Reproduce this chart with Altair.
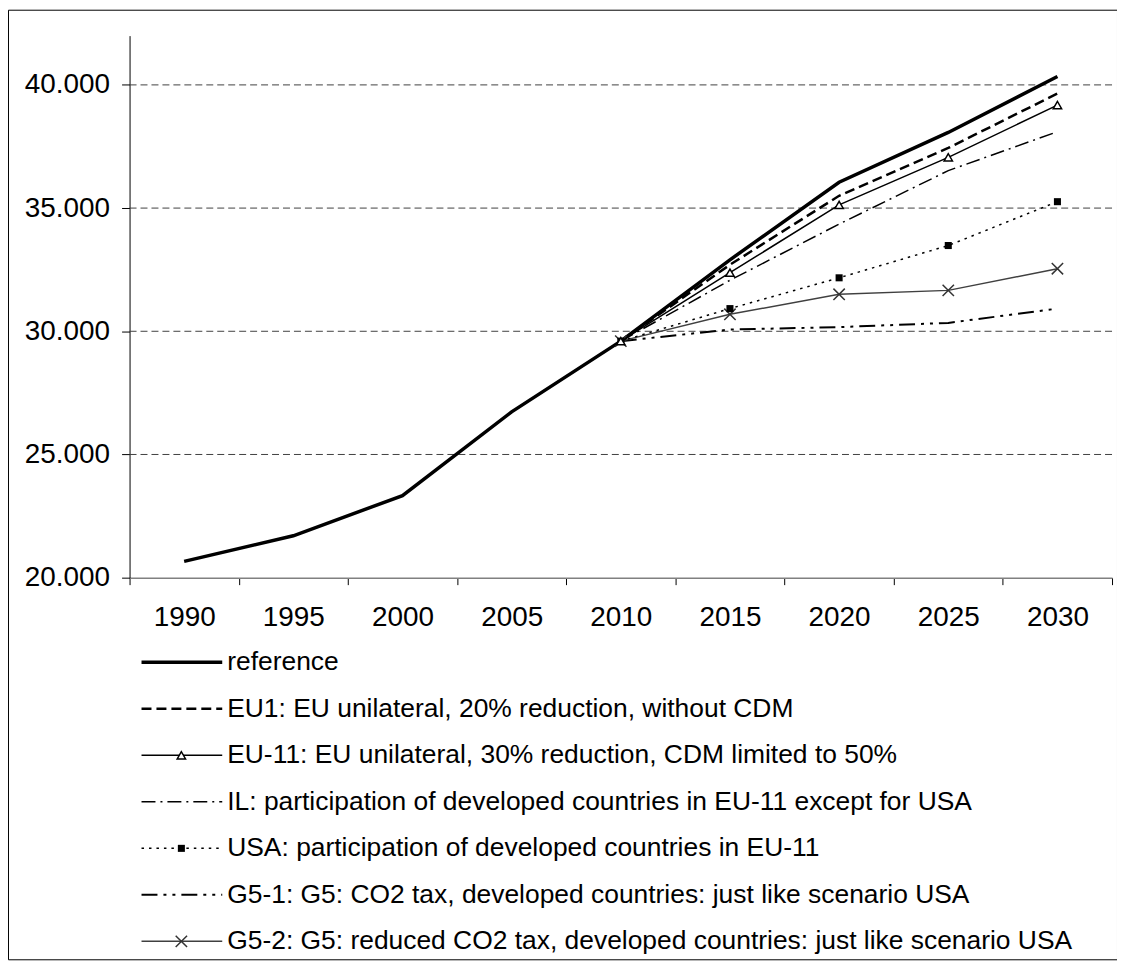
import altair as alt
import pandas as pd

years = [1990, 1995, 2000, 2005, 2010, 2015, 2020, 2025, 2030]

reference = [20660, 21700, 23330, 26730, 29600, 32900, 36050, 38070, 40340]
eu1 = [None, None, None, None, 29600, 32700, 35500, 37440, 39650]
eu11 = [None, None, None, None, 29600, 32380, 35130, 37060, 39180]
il = [None, None, None, None, 29600, 32070, 34350, 36520, 38100]
usa = [None, None, None, None, 29600, 30920, 32170, 33480, 35260]
g51 = [None, None, None, None, 29600, 30070, 30170, 30340, 30920]
g52 = [None, None, None, None, 29600, 30690, 31500, 31660, 32540]

series_names = ["reference", "EU1", "EU-11", "IL", "USA", "G5-1", "G5-2"]
series_values = [reference, eu1, eu11, il, usa, g51, g52]
legend_labels = [
    "reference",
    "EU1: EU unilateral, 20% reduction, without CDM",
    "EU-11: EU unilateral, 30% reduction, CDM limited to 50%",
    "IL: participation of developed countries in EU-11 except for USA",
    "USA: participation of developed countries in EU-11",
    "G5-1: G5: CO2 tax, developed countries: just like scenario USA",
    "G5-2: G5: reduced CO2 tax, developed countries: just like scenario USA",
]
y_ticks = [20000, 25000, 30000, 35000, 40000]
grid_values = [25000, 30000, 35000, 40000]

FONT = "Liberation Sans"

rows = []
for name, vals in zip(series_names, series_values):
    for yr, v in zip(years, vals):
        if v is not None:
            rows.append({"series": name, "year": yr, "value": v})
df = pd.DataFrame(rows)
grid_df = pd.DataFrame({"v": grid_values})
leg_df = pd.DataFrame({"series": series_names, "label": legend_labels})

X_PATH = "M-1,-1L1,1M-1,1L1,-1"
styles = {
    "reference": dict(color="black", width=3.5, dash=None, marker=None),
    "EU1": dict(color="black", width=2.5, dash=[10, 5], marker=None),
    "EU-11": dict(color="black", width=1.5, dash=None,
                  marker=dict(shape="triangle-up", size=70, filled=False, fill="white", stroke="black", strokeWidth=1.5)),
    "IL": dict(color="black", width=1.5, dash=[14, 5, 2, 5], marker=None),
    "USA": dict(color="black", width=1.5, dash=[2.5, 5],
                marker=dict(shape="square", size=50, filled=True, fill="black", stroke="black", strokeWidth=0)),
    "G5-1": dict(color="black", width=2, dash=[16, 6, 3, 6, 3, 6], marker=None),
    "G5-2": dict(color="#404040", width=1.5, dash=None,
                 marker=dict(shape=X_PATH, size=130, filled=False, stroke="#333333", strokeWidth=1.5)),
}

x_scale = alt.Scale(type="band", range=[122, 1108], paddingInner=0, paddingOuter=0)
y_scale = alt.Scale(domain=[20000, 42000], range=[570, 26], nice=False, zero=False)

x_axis = alt.Axis(
    title=None, tickBand="extent", domainColor="#808080", domainWidth=1.5,
    tickColor="black", tickSize=7, labelFontSize=28, labelFont=FONT,
    labelColor="black", labelPadding=19, labelAngle=0, offset=-383, grid=False,
)
y_axis = alt.Axis(
    title=None, values=y_ticks, labelExpr="replace(format(datum.value, ','), ',', '.')",
    domainColor="black", domainWidth=1, tickColor="black", tickSize=8,
    labelFontSize=28, labelFont=FONT, labelColor="black", labelPadding=12,
    offset=-122, grid=False,
)

X = alt.X("year:O", scale=x_scale, axis=x_axis)
Y = alt.Y("value:Q", scale=y_scale, axis=y_axis)

grid = alt.Chart(grid_df).mark_rule(stroke="#404040", strokeWidth=1, strokeDash=[7, 4]).encode(
    y=alt.Y("v:Q", scale=y_scale, axis=y_axis),
    x=alt.value(122), x2=alt.value(1108),
)

main_layers = [grid]
draw_order = ["G5-1", "G5-2", "USA", "IL", "EU-11", "EU1", "reference"]
for name in draw_order:
    st = styles[name]
    props = dict(stroke=st["color"], strokeWidth=st["width"], strokeCap="butt", strokeJoin="miter")
    if st["dash"]:
        props["strokeDash"] = st["dash"]
    base = alt.Chart(df).transform_filter(alt.datum.series == name)
    main_layers.append(base.mark_line(**props).encode(x=X, y=Y))
for name in draw_order:
    st = styles[name]
    if st["marker"]:
        base = alt.Chart(df).transform_filter(alt.datum.series == name)
        main_layers.append(base.mark_point(opacity=1, **st["marker"]).encode(x=X, y=Y))

main = alt.layer(*main_layers)

LY = alt.Y("series:N", sort=series_names, scale=alt.Scale(type="point", range=[655, 935], padding=0), axis=None)
leg_layers = []
for name in series_names:
    st = styles[name]
    props = dict(stroke=st["color"], strokeWidth=st["width"], strokeCap="butt")
    if st["dash"]:
        props["strokeDash"] = st["dash"]
    base = alt.Chart(leg_df).transform_filter(alt.datum.series == name)
    leg_layers.append(base.mark_rule(**props).encode(y=LY, x=alt.value(134), x2=alt.value(215)))
    if st["marker"]:
        leg_layers.append(base.mark_point(opacity=1, **st["marker"]).encode(y=LY, x=alt.value(174)))
leg_layers.append(
    alt.Chart(leg_df).mark_text(align="left", baseline="middle", fontSize=26.5, font=FONT, color="black").encode(
        y=LY, x=alt.value(220), text="label:N"
    )
)
legend = alt.layer(*leg_layers)

chart = (
    alt.layer(main, legend)
    .resolve_scale(y="independent")
    .properties(width=1113, height=953, padding=0, background="white")
    .configure_view(stroke="black", strokeWidth=1)
)

chart.save("out.html", embed_options={"renderer": "svg", "actions": False})
